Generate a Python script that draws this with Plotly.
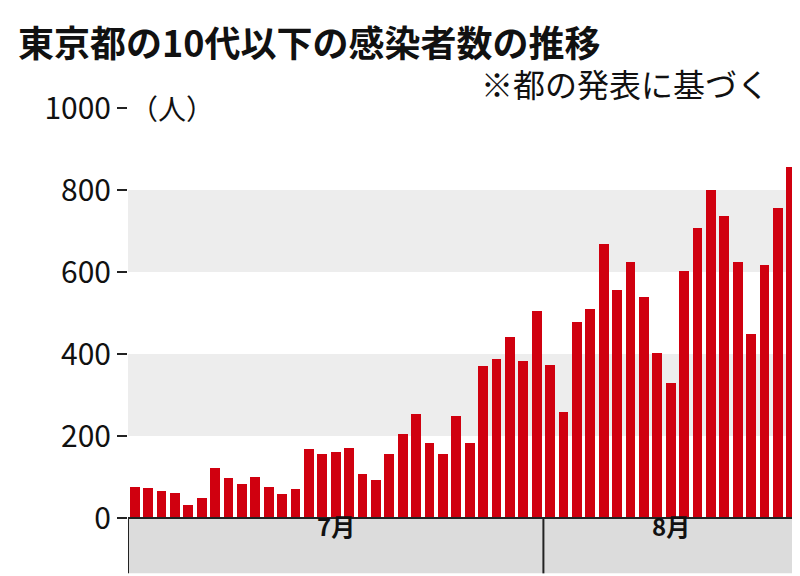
import plotly.graph_objects as go

july = [75, 73, 67, 62, 32, 50, 123, 97, 83, 101, 75, 58, 70, 168, 155, 161, 170,
        108, 93, 155, 206, 254, 182, 156, 248, 182, 371, 387, 442, 384, 506]
august = [374, 258, 477, 510, 668, 556, 625, 540, 403, 330, 602, 707, 800, 737,
          624, 448, 617, 755, 855]
values = july + august
xs = list(range(len(values)))
month_labels = ["7月", "8月"]
yticks = [0, 200, 400, 600, 800, 1000]

font = "Noto Sans CJK JP"
fig = go.Figure(go.Bar(x=xs, y=values, marker=dict(color="#d0000f", line=dict(width=0)),
                       width=0.72))

shapes = []
for lo in (200, 600):
    shapes.append(dict(type="rect", xref="paper", yref="y", x0=0, x1=1, y0=lo, y1=lo + 200,
                       fillcolor="#ededed", line=dict(width=0), layer="below"))
n = len(values)
shapes.append(dict(type="rect", xref="x", yref="paper", x0=-0.5, x1=n - 0.5, y0=-0.135, y1=0,
                   fillcolor="#dcdcdc", line=dict(width=0)))
shapes.append(dict(type="line", xref="x", yref="paper", x0=-0.5, x1=n - 0.5, y0=0, y1=0,
                   line=dict(color="#222", width=2)))
for xv in (-0.5, len(july) - 0.5):
    shapes.append(dict(type="line", xref="x", yref="paper", x0=xv, x1=xv, y0=-0.135, y1=0,
                       line=dict(color="#222", width=2)))

annotations = [
    dict(text="東京都の10代以下の感染者数の推移", x=-0.167, y=1.232, xref="paper", yref="paper",
         xanchor="left", yanchor="top", showarrow=False,
         font=dict(family=font, size=36, color="#111", weight="bold")),
    dict(text="※都の発表に基づく", x=0.96, y=1.0, xref="paper", yref="paper",
         xanchor="right", yanchor="bottom", showarrow=False,
         font=dict(family=font, size=32, color="#111")),
    dict(text="（人）", x=-0.5, y=1000, xref="x", yref="y", xanchor="left", yanchor="middle",
         showarrow=False, font=dict(family=font, size=28, color="#111")),
    dict(text=month_labels[0], x=(len(july) - 1) / 2, y=-0.067, xref="x", yref="paper",
         showarrow=False, font=dict(family=font, size=24, color="#111", weight="bold")),
    dict(text=month_labels[1], x=len(july) + (len(august) - 1) / 2, y=-0.067, xref="x",
         yref="paper", showarrow=False,
         font=dict(family=font, size=24, color="#111", weight="bold")),
]

fig.update_layout(
    width=800, height=576, margin=dict(l=120, r=10, t=100, b=66),
    paper_bgcolor="white", plot_bgcolor="white", showlegend=False,
    shapes=shapes, annotations=annotations, bargap=0,
    xaxis=dict(range=[-0.5, n - 0.5], showticklabels=False, showgrid=False, zeroline=False),
    yaxis=dict(range=[0, 1000], tickvals=yticks, ticks="outside", ticklen=10, tickwidth=2,
               tickcolor="#222", showgrid=False, zeroline=False,
               tickfont=dict(family=font, size=30, color="#111")),
)
fig.write_html("out.html")
